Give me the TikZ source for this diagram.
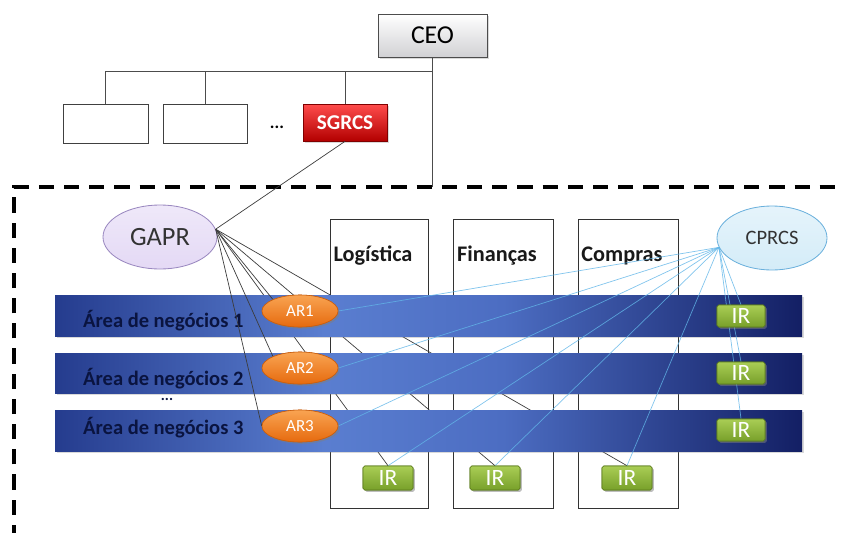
\documentclass[tikz,border=0pt]{standalone}
\usepackage{fontspec}
\setmainfont{Carlito}
\usetikzlibrary{shapes.geometric,shadows}

\definecolor{bandL}{HTML}{253C8E}
\definecolor{bandM}{HTML}{5A7ED0}
\definecolor{bandN}{HTML}{4C6DC2}
\definecolor{bandR}{HTML}{131F64}
\definecolor{bandtext}{HTML}{0A1440}
\definecolor{wire}{HTML}{3C3C3C}
\definecolor{skyline}{HTML}{62B6E8}
\definecolor{arTop}{HTML}{F9A452}
\definecolor{arBot}{HTML}{E66A0E}
\definecolor{arEdge}{HTML}{C85E10}
\definecolor{irTop}{HTML}{A9CD55}
\definecolor{irBot}{HTML}{78A02A}
\definecolor{irEdge}{HTML}{5C7C1C}
\definecolor{gaprFill}{HTML}{E4D9F5}
\definecolor{gaprEdge}{HTML}{9A88C0}
\definecolor{cprFill}{HTML}{D4ECF8}
\definecolor{cprEdge}{HTML}{6AB0DC}

% only the middle half (25bp..75bp) of a declared shading covers the path
\pgfdeclarehorizontalshading{bandshade}{100bp}{color(0bp)=(bandL); color(25bp)=(bandL); color(43bp)=(bandM); color(55bp)=(bandN); color(75bp)=(bandR); color(100bp)=(bandR)}

\newcommand\pxu{0.03cm}

\tikzset{
  softshadow/.style={drop shadow={opacity=0.3,shadow xshift=1.5pt,shadow yshift=-1.5pt}},
  ceobox/.style={draw=black!70,line width=0.7pt,top color=white,bottom color=blue!6!black!18,
    minimum width=109*\pxu,minimum height=43*\pxu,inner sep=0pt,font=\fontsize{22}{24}\selectfont,softshadow},
  orgbox/.style={draw=black!75,line width=0.7pt,fill=white,minimum width=85*\pxu,minimum height=39*\pxu,inner sep=0pt},
  redbox/.style={draw=red!50!black,line width=0.6pt,top color=red!70!white,bottom color=red!70!black,
    minimum width=84*\pxu,minimum height=37*\pxu,inner sep=0pt,text=white,font=\bfseries\fontsize{18}{20}\selectfont,softshadow},
  orgline/.style={draw=black!70,line width=0.7pt},
  frameline/.style={draw=black,line width=2.6pt,dash pattern=on 13pt off 8.5pt},
  gaprell/.style={ellipse,draw=gaprEdge,line width=0.7pt,top color=gaprFill!60!white,bottom color=gaprFill,
    minimum width=114*\pxu,minimum height=64*\pxu,inner sep=0pt,text=black!80,font=\fontsize{22.5}{24}\selectfont},
  cprell/.style={ellipse,draw=cprEdge,line width=0.7pt,top color=cprFill!60!white,bottom color=cprFill,
    minimum width=110*\pxu,minimum height=64*\pxu,inner sep=0pt,text=black!80,font=\fontsize{17.5}{19}\selectfont},
  deptbox/.style={draw=black!80,line width=0.7pt,minimum width=98*\pxu,minimum height=289*\pxu,inner sep=0pt},
  depttext/.style={inner sep=0pt,font=\bfseries\fontsize{19}{21}\selectfont,text=black!90},
  bandbox/.style={shading=bandshade,minimum width=747*\pxu,minimum height=41*\pxu,inner sep=0pt,softshadow},
  bandlabel/.style={anchor=base west,inner sep=0pt,text=bandtext,font=\bfseries\fontsize{17.5}{19}\selectfont},
  arell/.style={ellipse,draw=arEdge,line width=0.5pt,top color=arTop,bottom color=arBot,
    minimum width=76*\pxu,minimum height=32*\pxu,inner sep=0pt,text=white,font=\fontsize{14.5}{16}\selectfont,softshadow},
  irbox/.style={draw=irEdge,line width=0.5pt,rounded corners=1.5pt,top color=irTop,bottom color=irBot,
    minimum width=48*\pxu,minimum height=22*\pxu,inner sep=0pt,text=white,font=\fontsize{20}{20}\selectfont,softshadow},
  irdept/.style={irbox,minimum width=50*\pxu,minimum height=24*\pxu},
  darkwire/.style={draw=wire,line width=0.6pt},
  lightwire/.style={draw=skyline,line width=0.6pt,opacity=0.8}
}

\begin{document}
\begin{tikzpicture}[x=\pxu,y=-\pxu]
\useasboundingbox (0,0) rectangle (841,532);

% top of the organisation chart
\node[ceobox] (ceo) at (432.5,35.5) {CEO};
\node[orgbox] (box1) at (105.5,123.5) {};
\node[orgbox,minimum width=84*\pxu] (box2) at (205,123.5) {};
\node[inner sep=0pt,font=\bfseries\fontsize{15}{16}\selectfont] (dots) at (277,127) {...};
\node[redbox] (sg) at (345,122.5) {SGRCS};

\coordinate (bus) at (432,71);
\coordinate (ftop) at (432,187);
\draw[orgline] (box1.north) |- (bus);
\draw[orgline] (box2.north) -- (box2.north |- bus);
\draw[orgline] (sg.north) -- (sg.north |- bus);
\draw[orgline] (ceo.south -| ftop) -- (ftop);

% dashed boundary of the business units
\coordinate (fbl) at (14,540);
\coordinate (ftl) at (14,187);
\coordinate (ftr) at (850,187);
\draw[frameline] (fbl) -- (ftl) -- (ftr);

% departments
\node[deptbox] (log) at (379,363.5) {};
\node[deptbox,minimum width=100*\pxu] (fin) at (503,363.5) {};
\node[deptbox,minimum width=100*\pxu] (comp) at (628,363.5) {};
\node[depttext] (logt) at (373,256) {Logística};
\node[depttext] (fint) at (497,256) {Finanças};
\node[depttext] (compt) at (622,256) {Compras};

% committees
\node[gaprell] (gapr) at (160,237) {GAPR};
\node[cprell] (cpr) at (772,238) {CPRCS};

% department risk interlocutors
\node[irdept] (irl) at (388,478) {IR};
\node[irdept] (irf) at (495,478) {IR};
\node[irdept] (irc) at (627,478) {IR};

% GAPR links running behind the business areas
\draw[darkwire] (gapr.8) -- (irl.north);
\draw[darkwire] (gapr.8) -- (irf.north);
\draw[darkwire] (gapr.8) -- (irc.north);

% business areas
\node[bandbox] (b1) at (428.5,315.5) {};
\node[bandbox,minimum height=40*\pxu] (b2) at (428.5,373) {};
\node[bandbox,minimum height=41*\pxu] (b3) at (428.5,430.5) {};
\node[bandlabel] (b1t) at (83,327) {Área de negócios 1};
\node[bandlabel] (b2t) at (83,385) {Área de negócios 2};
\node[bandlabel] (b3t) at (83,434) {Área de negócios 3};
\node[inner sep=0pt,text=bandtext,font=\bfseries\fontsize{13}{14}\selectfont] (bdots) at (167,399) {...};

% area risk officers and interlocutors
\node[arell] (ar1) at (300,311) {AR1};
\node[arell] (ar2) at (300,368) {AR2};
\node[arell] (ar3) at (300,426) {AR3};
\node[irbox] (ir1) at (741,316) {IR};
\node[irbox] (ir2) at (741,373) {IR};
\node[irbox] (ir3) at (741,430) {IR};

% GAPR links
\draw[darkwire] (sg.south) -- (gapr.8);
\draw[darkwire] (gapr.8) -- (ar1.north west);
\draw[darkwire] (gapr.8) -- (ar2.north west);
\draw[darkwire] (gapr.8) -- (ar3.west);

% CPRCS links
\foreach \t in {ar1.east,ar2.east,ar3.east,irl.north,irf.north,irc.north,ir1.north,ir2.north,ir3.north}
  \draw[lightwire] (cpr.190) -- (\t);

% redraw the boxes on top of the links
\node[arell] at (ar1) {AR1};
\node[arell] at (ar2) {AR2};
\node[arell] at (ar3) {AR3};
\node[irbox] at (ir1) {IR};
\node[irbox] at (ir2) {IR};
\node[irbox] at (ir3) {IR};
\node[irdept] at (irl) {IR};
\node[irdept] at (irf) {IR};
\node[irdept] at (irc) {IR};
\end{tikzpicture}
\end{document}
